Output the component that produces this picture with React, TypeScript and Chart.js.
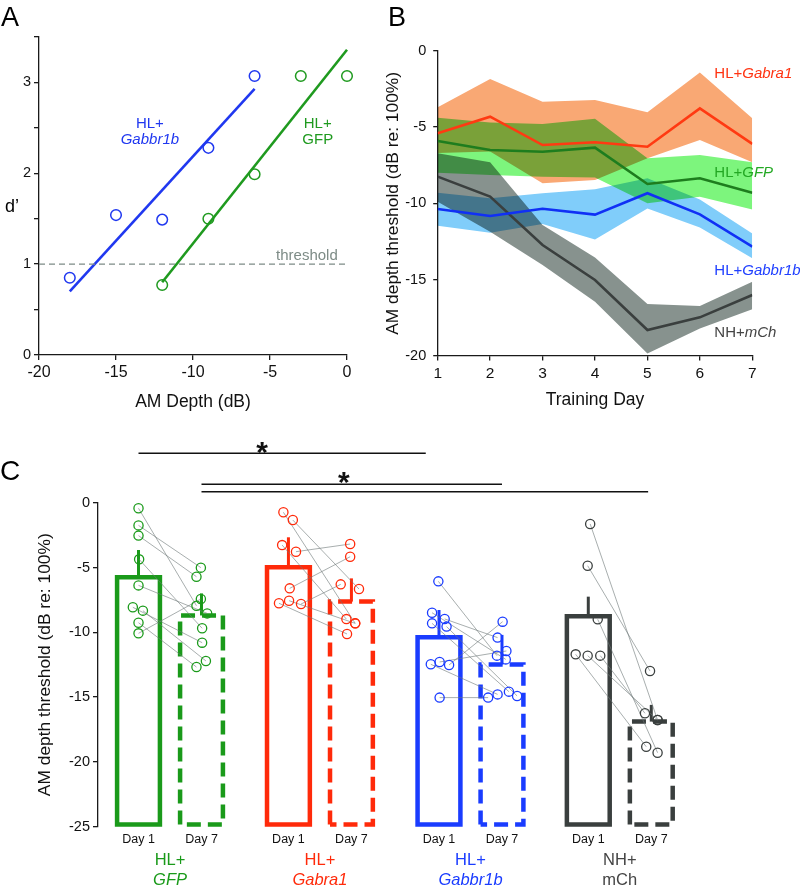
import React, { useEffect, useRef } from "react";
import { Chart, registerables } from "chart.js";

// Multiply blending for the shaded SEM bands of panel B
const multiplyBands = {
  id: "multiplyBands",
  beforeDatasetDraw(chart: any, args: any) {
    const ds = chart.data.datasets[args.index];
    if (ds && ds.multiply) {
      chart.ctx.save();
      chart.ctx.globalCompositeOperation = "multiply";
    }
  },
  afterDatasetDraw(chart: any, args: any) {
    const ds = chart.data.datasets[args.index];
    if (ds && ds.multiply) chart.ctx.restore();
  },
};
Chart.register(multiplyBands, ...registerables);

const FONT = '"Liberation Sans", Arial, Helvetica, sans-serif';

// ---------------- Panel A data ----------------
const aDepthGabbr = [-18, -15, -12, -9, -6];
const aDprimeGabbr = [0.85, 1.54, 1.49, 2.28, 3.07];
const aDepthGFP = [-12, -9, -6, -3, 0];
const aDprimeGFP = [0.77, 1.5, 1.99, 3.07, 3.07];
const aFitGabbrX = [-18, -6];
const aFitGabbrY = [0.7, 2.93];
const aFitGFPX = [-12, 0];
const aFitGFPY = [0.8, 3.36];
const aThreshold = 1;

// ---------------- Panel B data ----------------
const bDays = [1, 2, 3, 4, 5, 6, 7];
const bGabraMean = [-5.41, -4.32, -6.18, -6.0, -6.29, -3.78, -6.11];
const bGabraHi = [-3.71, -1.86, -3.34, -3.23, -4.04, -1.42, -4.43];
const bGabraLo = [-6.7, -6.6, -8.69, -8.47, -7.05, -5.85, -7.3];
const bGfpMean = [-5.92, -6.51, -6.62, -6.35, -8.73, -8.36, -9.3];
const bGfpHi = [-4.4, -4.7, -4.8, -4.45, -7.05, -6.83, -7.3];
const bGfpLo = [-8.0, -8.14, -8.25, -8.3, -10.0, -9.56, -10.4];
const bGabbrMean = [-10.37, -10.83, -10.35, -10.74, -9.34, -10.72, -12.84];
const bGabbrHi = [-9.3, -9.67, -9.34, -9.08, -8.36, -9.74, -11.97];
const bGabbrLo = [-11.46, -11.92, -11.35, -12.36, -10.33, -11.59, -13.6];
const bMchMean = [-8.25, -9.56, -12.73, -15.02, -18.3, -17.47, -16.0];
const bMchHi = [-6.72, -7.3, -11.42, -13.54, -16.59, -16.72, -15.13];
const bMchLo = [-9.9, -11.86, -14.04, -16.44, -19.83, -18.2, -16.94];
const bLabelPrefix = ["HL+", "HL+", "HL+", "NH+"];
const bLabelGene = ["Gabra1", "GFP", "Gabbr1b", "mCh"];

// ---------------- Panel C data ----------------
const cGroupTop = ["HL+", "HL+", "HL+", "NH+"];
const cGroupBottom = ["GFP", "Gabra1", "Gabbr1b", "mCh"];
const cGroupItalic = [true, true, true, false];
const cDayLabels = ["Day 1", "Day 7"];
const cGroupX = [0, 2.38, 4.77, 7.14];
const cBarDay1 = [-5.75, -4.98, -10.38, -8.76];
const cBarDay7 = [-8.7, -7.63, -12.49, -16.89];
const cErrDay1 = [-3.65, -2.67, -8.28, -7.25];
const cErrDay7 = [-7.0, -5.84, -10.2, -15.6];

const cGfpDay1 = [-0.43, -1.75, -2.54, -4.37, -6.38, -8.07, -8.33, -9.26, -10.08];
const cGfpJit1 = [0, 0, 0, 0.01, 0, -0.09, 0.07, 0, 0];
const cGfpDay7 = [-7.95, -5.01, -5.71, -9.69, -8.54, -10.8, -12.21, -12.68, -7.43];
const cGfpJit7 = [-0.08, -0.01, -0.08, 0.01, 0.09, 0.01, 0.07, -0.08, -0.01];

const cGabraDay1 = [-0.74, -1.34, -3.27, -3.78, -6.61, -7.76, -7.56, -7.82];
const cGabraJit1 = [-0.08, 0.07, -0.1, 0.12, 0.02, -0.15, 0.01, 0.2];
const cGabraDay7 = [-9.31, -6.66, -8.98, -3.19, -4.17, -10.13, -9.31, -6.3];
const cGabraJit7 = [0.06, 0.12, -0.08, -0.02, -0.02, -0.07, 0.06, -0.17];

const cGabbrDay1 = [-6.07, -8.49, -8.97, -9.31, -9.56, -12.47, -12.29, -12.52, -15.04];
const cGabbrJit1 = [-0.01, -0.11, 0.09, -0.11, 0.12, -0.13, 0.01, 0.16, 0.01];
const cGabbrDay7 = [-11.8, -12.09, -10.41, -14.58, -14.91, -14.79, -11.44, -9.18, -15.04];
const cGabbrJit7 = [-0.08, 0.06, -0.07, 0.11, 0.24, -0.07, 0.07, 0.01, -0.22];

const cMchDay1 = [-1.64, -4.86, -9.0, -11.7, -11.8, -11.8];
const cMchJit1 = [0.03, -0.01, 0.15, -0.2, -0.01, 0.19];
const cMchDay7 = [-16.77, -12.99, -19.29, -18.83, -16.77, -16.25];
const cMchJit7 = [0.1, -0.02, 0.1, -0.08, 0.1, -0.1];

const cSigFrom = [0, 1, 1];
const cSigTo = [4.56, 5.77, 8.09];
const cSigStarX = [1.96, 3.26];

// ---------------- Styles ----------------
const AX = "#1a1a1a";
const A_BLUE = "#2038f0";
const A_GREEN = "#1f9a1f";
const A_GRAY = "#7d8b86";

const B_RED = "#ff3a12";
const B_GREEN_LINE = "#1e7d1e";
const B_BLUE_LINE = "#1030f5";
const B_GRAY_LINE = "#3a3f3e";
const B_ORANGE_BAND = "#f9a874";
const B_GREEN_BAND = "#7df57d";
const B_BLUE_BAND = "#80cdfa";
const B_GRAY_BAND = "#87928e";
const B_LABEL = ["#ff3311", "#23a823", "#2040ff", "#444444"];

const C_COLORS = ["#1a9a1a", "#ff2a0a", "#1a3cff", "#3a3f3e"];
const C_PAIR = "rgba(110,120,120,0.6)";

function drawParts(
  ctx: CanvasRenderingContext2D,
  parts: [string, boolean][],
  x: number,
  y: number,
  size: number,
  color: string,
  align: "left" | "center" | "right",
  weight = "normal"
) {
  ctx.save();
  ctx.fillStyle = color;
  ctx.textBaseline = "alphabetic";
  ctx.textAlign = "left";
  const fonts = parts.map(([, it]) => `${it ? "italic" : "normal"} ${weight} ${size}px ${FONT}`);
  const widths = parts.map(([t], i) => {
    ctx.font = fonts[i];
    return ctx.measureText(t).width;
  });
  const total = widths.reduce((a, b) => a + b, 0);
  let cx = align === "left" ? x : align === "center" ? x - total / 2 : x - total;
  parts.forEach(([t], i) => {
    ctx.font = fonts[i];
    ctx.fillText(t, cx, y);
    cx += widths[i];
  });
  ctx.restore();
}

function axisBase(fontSize: number, padding: number, tickLength: number) {
  return {
    grid: { display: true, drawOnChartArea: false, drawTicks: true, tickLength, color: AX, lineWidth: 1.3 },
    border: { display: true, color: AX, width: 1.3 },
    ticks: { font: { size: fontSize, family: FONT }, color: "#111", padding },
  };
}

const pts = (xs: number[], ys: number[]) => xs.map((x, i) => ({ x, y: ys[i] }));

// ---------------- Panel A ----------------
function makeA(canvas: HTMLCanvasElement) {
  const xb = axisBase(16, 3, 5);
  const yb = axisBase(14.5, 3, 5);
  const annot = {
    id: "annotA",
    afterDraw(chart: any) {
      const { ctx } = chart;
      const x = chart.scales.x;
      const y = chart.scales.y;
      drawParts(ctx, [["A", false]], 1, 26, 27, "#000", "left");
      drawParts(ctx, [["d’", false]], 5, 212, 18, "#000", "left");
      drawParts(ctx, [["threshold", false]], x.getPixelForValue(-0.6), y.getPixelForValue(aThreshold) - 4, 15, A_GRAY, "right");
      drawParts(ctx, [["HL+", false]], x.getPixelForValue(-12.8), 127.7, 15, A_BLUE, "center");
      drawParts(ctx, [["Gabbr1b", true]], x.getPixelForValue(-12.8), 144, 15, A_BLUE, "center");
      drawParts(ctx, [["HL+", false]], x.getPixelForValue(-1.9), 127.7, 15, A_GREEN, "center");
      drawParts(ctx, [["GFP", false]], x.getPixelForValue(-1.9), 144, 15, A_GREEN, "center");
    },
  };
  return new Chart(canvas, {
    type: "scatter",
    data: {
      datasets: [
        { label: "threshold", data: [{ x: -20, y: aThreshold }, { x: 0, y: aThreshold }], showLine: true, borderColor: A_GRAY, borderWidth: 1.3, borderDash: [6, 4], pointRadius: 0, clip: false } as any,
        { label: "HL+Gabbr1b fit", data: pts(aFitGabbrX, aFitGabbrY), showLine: true, borderColor: A_BLUE, borderWidth: 2.6, pointRadius: 0, clip: false },
        { label: "HL+GFP fit", data: pts(aFitGFPX, aFitGFPY), showLine: true, borderColor: A_GREEN, borderWidth: 2.6, pointRadius: 0, clip: false },
        { label: "HL+Gabbr1b", data: pts(aDepthGabbr, aDprimeGabbr), showLine: false, pointRadius: 5.3, pointBorderWidth: 1.5, pointBorderColor: A_BLUE, borderColor: A_BLUE, pointBackgroundColor: "rgba(0,0,0,0)", backgroundColor: "rgba(0,0,0,0)", clip: false },
        { label: "HL+GFP", data: pts(aDepthGFP, aDprimeGFP), showLine: false, pointRadius: 5.3, pointBorderWidth: 1.5, pointBorderColor: A_GREEN, borderColor: A_GREEN, pointBackgroundColor: "rgba(0,0,0,0)", backgroundColor: "rgba(0,0,0,0)", clip: false },
      ],
    },
    options: {
      responsive: false,
      animation: false,
      events: [],
      layout: { padding: { left: 0, top: 37, right: 23, bottom: 0 } },
      plugins: { legend: { display: false }, tooltip: { enabled: false } },
      scales: {
        x: {
          type: "linear",
          min: -20,
          max: 0,
          ...xb,
          ticks: { ...xb.ticks, stepSize: 5 },
          title: { display: true, text: "AM Depth (dB)", font: { size: 17.5, family: FONT }, color: "#111", padding: { top: 0, bottom: 7.5 } },
          afterFit: (s: any) => { s.height = 65; },
        },
        y: {
          type: "linear",
          min: 0,
          max: 3.5,
          ...yb,
          ticks: { ...yb.ticks, stepSize: 0.5, callback: (v: any) => (Number.isInteger(Number(v)) ? String(v) : "") },
          afterFit: (s: any) => { s.width = 39; },
        },
      },
    } as any,
    plugins: [annot],
  });
}

// ---------------- Panel B ----------------
function makeB(canvas: HTMLCanvasElement) {
  const xb = axisBase(15.5, 3.5, 4.5);
  const yb = axisBase(14.5, 7, 4.5);
  const bands = [
    { hi: bGabraHi, lo: bGabraLo, color: B_ORANGE_BAND, name: "HL+Gabra1" },
    { hi: bGfpHi, lo: bGfpLo, color: B_GREEN_BAND, name: "HL+GFP" },
    { hi: bGabbrHi, lo: bGabbrLo, color: B_BLUE_BAND, name: "HL+Gabbr1b" },
    { hi: bMchHi, lo: bMchLo, color: B_GRAY_BAND, name: "NH+mCh" },
  ];
  const means = [
    { data: bGabraMean, color: B_RED, name: "HL+Gabra1" },
    { data: bGfpMean, color: B_GREEN_LINE, name: "HL+GFP" },
    { data: bGabbrMean, color: B_BLUE_LINE, name: "HL+Gabbr1b" },
    { data: bMchMean, color: B_GRAY_LINE, name: "NH+mCh" },
  ];
  const datasets: any[] = [];
  bands.forEach((b) => {
    datasets.push({ label: b.name + " upper", data: pts(bDays, b.hi), fill: "+1", backgroundColor: b.color, borderColor: "rgba(0,0,0,0)", borderWidth: 0, pointRadius: 0, tension: 0, order: 5, multiply: true });
    datasets.push({ label: b.name + " lower", data: pts(bDays, b.lo), fill: false, borderColor: "rgba(0,0,0,0)", borderWidth: 0, pointRadius: 0, tension: 0, order: 5 });
  });
  means.forEach((m) => {
    datasets.push({ label: m.name, data: pts(bDays, m.data), fill: false, borderColor: m.color, borderWidth: 2.6, pointRadius: 0, tension: 0, order: 0 });
  });
  const labelY = [78.3, 176.7, 275, 337.3];
  const annot = {
    id: "annotB",
    afterDraw(chart: any) {
      const { ctx } = chart;
      drawParts(ctx, [["B", false]], 18, 26, 27, "#000", "left");
      for (let i = 0; i < bLabelGene.length; i++) {
        drawParts(ctx, [[bLabelPrefix[i], false], [bLabelGene[i], true]], 344.3, labelY[i], 15, B_LABEL[i], "left");
      }
    },
  };
  return new Chart(canvas, {
    type: "line",
    data: { datasets },
    options: {
      responsive: false,
      animation: false,
      events: [],
      layout: { padding: { left: 0, top: 50.7, right: 47.7, bottom: 0 } },
      plugins: { legend: { display: false }, tooltip: { enabled: false }, filler: { propagate: false } },
      scales: {
        x: {
          type: "linear",
          min: 1,
          max: 7,
          ...xb,
          ticks: { ...xb.ticks, stepSize: 1 },
          title: { display: true, text: "Training Day", font: { size: 17.5, family: FONT }, color: "#111", padding: { top: 0, bottom: 9.5 } },
          afterFit: (s: any) => { s.height = 64; },
        },
        y: {
          type: "linear",
          min: -20,
          max: 0,
          ...yb,
          ticks: { ...yb.ticks, stepSize: 5 },
          title: { display: true, text: "AM depth threshold (dB re: 100%)", font: { size: 17.4, family: FONT }, color: "#111", padding: { top: 12.5, bottom: 0 } },
          afterFit: (s: any) => { s.width = 67.7; },
        },
      },
    } as any,
    plugins: [annot],
  });
}

// ---------------- Panel C ----------------
function makeC(canvas: HTMLCanvasElement) {
  const yb = axisBase(14.5, 3, 5);
  const HALF = 0.34;
  const BASE = -24.83;
  const groupPts = [
    { d1: cGfpDay1, j1: cGfpJit1, d7: cGfpDay7, j7: cGfpJit7 },
    { d1: cGabraDay1, j1: cGabraJit1, d7: cGabraDay7, j7: cGabraJit7 },
    { d1: cGabbrDay1, j1: cGabbrJit1, d7: cGabbrDay7, j7: cGabbrJit7 },
    { d1: cMchDay1, j1: cMchJit1, d7: cMchDay7, j7: cMchJit7 },
  ];
  const datasets: any[] = [];
  cGroupBottom.forEach((g, gi) => {
    const color = C_COLORS[gi];
    [0, 1].forEach((day) => {
      const cx = cGroupX[gi] + day;
      const top = day === 0 ? cBarDay1[gi] : cBarDay7[gi];
      const err = day === 0 ? cErrDay1[gi] : cErrDay7[gi];
      const rect =
        day === 0
          ? [
              { x: cx - HALF, y: BASE }, { x: cx - HALF, y: top }, { x: cx + HALF, y: top },
              { x: cx + HALF, y: BASE }, { x: cx - HALF, y: BASE }, { x: cx - HALF, y: top },
            ]
          : [
              { x: cx - HALF, y: BASE }, { x: cx - HALF, y: top }, { x: cx + HALF, y: top },
              { x: cx + HALF, y: BASE }, { x: cx - HALF, y: BASE },
            ];
      datasets.push({
        label: `${g} ${cDayLabels[day]} mean`, data: rect, showLine: true, borderColor: color, borderWidth: 4.5,
        borderDash: day === 0 ? [] : [14, 7], borderJoinStyle: "miter", borderCapStyle: "butt",
        pointRadius: 0, order: 4, clip: false,
      });
      datasets.push({
        label: `${g} ${cDayLabels[day]} SEM`, data: [{ x: cx, y: top }, { x: cx, y: err }], showLine: true,
        borderColor: color, borderWidth: 3, pointRadius: 0, order: 3, clip: false,
      });
    });
    const gp = groupPts[gi];
    gp.d1.forEach((v, i) => {
      datasets.push({
        label: `${g} pair ${i + 1}`,
        data: [{ x: cGroupX[gi] + gp.j1[i], y: v }, { x: cGroupX[gi] + 1 + gp.j7[i], y: gp.d7[i] }],
        showLine: true, borderColor: C_PAIR, borderWidth: 1, pointRadius: 0, order: 1, clip: false,
      });
    });
    datasets.push({
      label: `${g} Day 1 animals`, data: gp.d1.map((v, i) => ({ x: cGroupX[gi] + gp.j1[i], y: v })),
      showLine: false, pointRadius: 4.6, pointBorderWidth: 1.3, pointBorderColor: color, borderColor: color,
      pointBackgroundColor: "rgba(0,0,0,0)", backgroundColor: "rgba(0,0,0,0)", order: 0, clip: false,
    });
    datasets.push({
      label: `${g} Day 7 animals`, data: gp.d7.map((v, i) => ({ x: cGroupX[gi] + 1 + gp.j7[i], y: v })),
      showLine: false, pointRadius: 4.6, pointBorderWidth: 1.3, pointBorderColor: color, borderColor: color,
      pointBackgroundColor: "rgba(0,0,0,0)", backgroundColor: "rgba(0,0,0,0)", order: 0, clip: false,
    });
  });

  const sigY = [33.3, 64.3, 71.7];
  const starBase = [41.7, 72];
  const annot = {
    id: "annotC",
    afterDraw(chart: any) {
      const { ctx } = chart;
      const x = chart.scales.x;
      drawParts(ctx, [["C", false]], 0, 60, 28, "#000", "left");
      for (let gi = 0; gi < cGroupBottom.length; gi++) {
        const x1 = x.getPixelForValue(cGroupX[gi]);
        const x7 = x.getPixelForValue(cGroupX[gi] + 1);
        drawParts(ctx, [[cDayLabels[0], false]], x1, 422.7, 12.5, "#111", "center");
        drawParts(ctx, [[cDayLabels[1], false]], x7, 422.7, 12.5, "#111", "center");
        const mid = (x1 + x7) / 2;
        const col = C_COLORS[gi] === "#3a3f3e" ? "#444444" : C_COLORS[gi];
        drawParts(ctx, [[cGroupTop[gi], false]], mid, 445, 16.5, col, "center");
        drawParts(ctx, [[cGroupBottom[gi], cGroupItalic[gi]]], mid, 464.5, 16.5, col, "center");
      }
      ctx.save();
      ctx.strokeStyle = "#111";
      ctx.lineWidth = 1.5;
      for (let i = 0; i < cSigFrom.length; i++) {
        ctx.beginPath();
        ctx.moveTo(x.getPixelForValue(cSigFrom[i]), sigY[i]);
        ctx.lineTo(x.getPixelForValue(cSigTo[i]), sigY[i]);
        ctx.stroke();
      }
      ctx.restore();
      for (let i = 0; i < cSigStarX.length; i++) {
        drawParts(ctx, [["*", false]], x.getPixelForValue(cSigStarX[i]), starBase[i], 30, "#111", "center", "bold");
      }
    },
  };

  return new Chart(canvas, {
    type: "scatter",
    data: { datasets },
    options: {
      responsive: false,
      animation: false,
      events: [],
      layout: { padding: { left: 0, top: 82.7, right: 100.4, bottom: 66.3 } },
      plugins: { legend: { display: false }, tooltip: { enabled: false } },
      scales: {
        x: { type: "linear", min: -0.643, max: 8.907, display: false },
        y: {
          type: "linear",
          min: -25,
          max: 0,
          ...yb,
          ticks: { ...yb.ticks, stepSize: 5 },
          title: { display: true, text: "AM depth threshold (dB re: 100%)", font: { size: 17.4, family: FONT }, color: "#111", padding: { top: 34.5, bottom: 0 } },
          afterFit: (s: any) => { s.width = 98; },
        },
      },
    } as any,
    plugins: [annot],
  });
}

function Panel({ left, top, width, height, make }: { left: number; top: number; width: number; height: number; make: (c: HTMLCanvasElement) => Chart }) {
  const ref = useRef<HTMLCanvasElement | null>(null);
  useEffect(() => {
    if (!ref.current) return;
    const chart = make(ref.current);
    return () => chart.destroy();
  }, []);
  return (
    <canvas
      ref={ref}
      width={width}
      height={height}
      style={{ position: "absolute", left, top, width, height }}
    />
  );
}

export default function App() {
  return (
    <div style={{ position: "absolute", left: 0, top: 0, width: 800, height: 893, background: "#fff", overflow: "hidden" }}>
      <Panel left={0} top={0} width={370} height={420} make={makeA} />
      <Panel left={370} top={0} width={430} height={420} make={makeB} />
      <Panel left={0} top={420} width={800} height={473} make={makeC} />
    </div>
  );
}
